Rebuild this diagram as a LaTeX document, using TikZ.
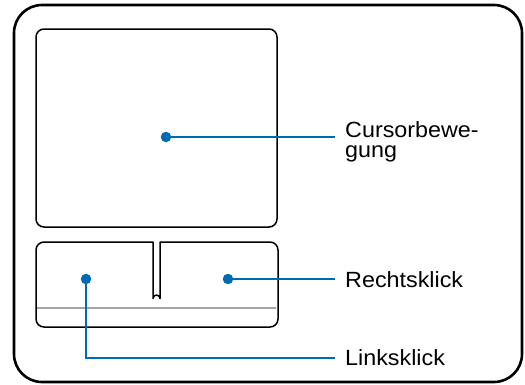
\documentclass[tikz,border=0pt]{standalone}
\usepackage{fontspec}
\setmainfont[FakeStretch=1.06]{Liberation Sans}
\definecolor{padblue}{RGB}{0,106,180}
\definecolor{padgray}{RGB}{165,165,165}
\begin{document}
\begin{tikzpicture}[x=1pt,y=-1pt,
  frame/.style={draw=black,line width=2.6pt,rounded corners=28pt},
  pad/.style={draw=black,line width=1.5pt,rounded corners=8pt},
  dot/.style={circle,fill=padblue,inner sep=0pt,minimum size=10.5pt},
  lead/.style={draw=padblue,line width=2.2pt},
  lab/.style={anchor=base west,inner sep=0pt,font=\fontsize{22}{20}\selectfont,align=left}]
\useasboundingbox (0,0) rectangle (525,384);
\draw[frame] (14,5) rectangle (522,382);
\draw[pad] (36,29) rectangle (277,227);
% button area with slot
\draw[black,line width=1.5pt,line join=round]
  (153,242) -- (44,242) arc[start angle=90,end angle=180,radius=8pt]
  -- (36,319) arc[start angle=180,end angle=270,radius=8pt]
  -- (270,327) arc[start angle=270,end angle=360,radius=8pt]
  -- (278,250) arc[start angle=0,end angle=90,radius=8pt]
  -- (160,242) -- (160,298.5) arc[start angle=0,end angle=180,radius=3.5pt] -- cycle;
\draw[padgray,line width=1.3pt] (37,308) -- (276,308);
% dots
\node[dot] (cur) at (166,137) {};
\node[dot] (rk) at (228,279) {};
\node[dot] (lk) at (86,279) {};
% labels
\node[lab] (lcur) at (345,157) {Cursorbewe-\\gung};
\node[lab] (lrk) at (345,287) {Rechtsklick};
\node[lab] (llk) at (345,365) {Linksklick};
\coordinate (ecur) at (335,137);
\coordinate (erk) at (335,279);
\coordinate (elk) at (335,358);
\draw[lead] (cur.center) -- (ecur);
\draw[lead] (rk.center) -- (erk);
\draw[lead] (lk.center) |- (elk);
\end{tikzpicture}
\end{document}
